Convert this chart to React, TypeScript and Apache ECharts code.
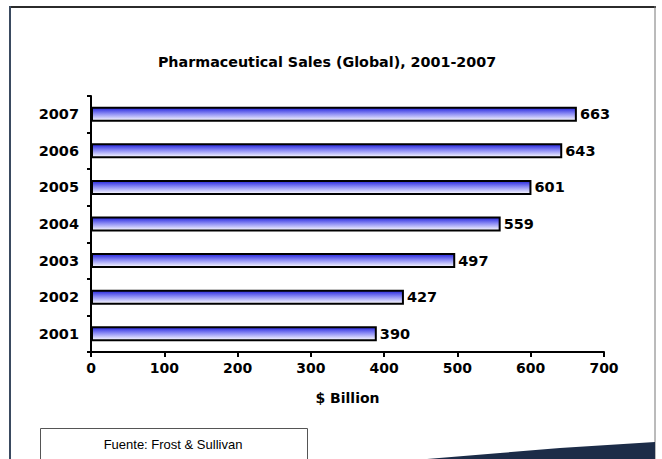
import React, { useEffect, useRef } from "react";
import * as echarts from "echarts";

const years = ["2001", "2002", "2003", "2004", "2005", "2006", "2007"];
const sales = [390, 427, 497, 559, 601, 643, 663];
const xTicks = [0, 100, 200, 300, 400, 500, 600, 700];
const titleText = "Pharmaceutical Sales (Global), 2001-2007";
const axisTitle = "$ Billion";
const sourceText = "Fuente: Frost & Sullivan";

const FONT = "DejaVu Sans";

export default function App() {
  const ref = useRef<HTMLDivElement>(null);
  useEffect(() => {
    const chart = echarts.init(ref.current!, null, { renderer: "svg" });
    chart.setOption({
      animation: false,
      backgroundColor: "#ffffff",
      title: {
        text: titleText,
        left: 322,
        textAlign: "center",
        top: 50,
        textStyle: { fontFamily: FONT, fontWeight: "bold", fontSize: 14.3, color: "#000" },
      },
      grid: { left: 91, right: 58, top: 96, bottom: 107, containLabel: false },
      xAxis: {
        type: "value",
        min: xTicks[0],
        max: xTicks[xTicks.length - 1],
        interval: 100,
        name: axisTitle,
        nameLocation: "middle",
        nameGap: 39,
        nameTextStyle: { fontFamily: FONT, fontWeight: "bold", fontSize: 14, color: "#000" },
        axisLine: { show: true, lineStyle: { color: "#000", width: 2 } },
        axisTick: { show: true, length: 5, lineStyle: { color: "#000", width: 2 } },
        axisLabel: { fontFamily: FONT, fontWeight: "bold", fontSize: 14, color: "#000", margin: 9 },
        splitLine: { show: false },
      },
      yAxis: {
        type: "category",
        data: years,
        axisLine: { show: true, lineStyle: { color: "#000", width: 2 } },
        axisTick: { show: true, length: 4, lineStyle: { color: "#000", width: 2 } },
        axisLabel: { fontFamily: FONT, fontWeight: "bold", fontSize: 14.5, color: "#000", margin: 12 },
      },
      series: [
        {
          type: "bar",
          data: sales,
          barWidth: 15,
          itemStyle: {
            color: new echarts.graphic.LinearGradient(0, 0, 0, 1, [
              { offset: 0, color: "#2424dc" },
              { offset: 0.45, color: "#8a8af4" },
              { offset: 1, color: "#ffffff" },
            ]),
            borderColor: "#000",
            borderWidth: 2,
          },
          label: {
            show: true,
            position: "right",
            distance: 3,
            fontFamily: FONT,
            fontWeight: "bold",
            fontSize: 14.5,
            color: "#000",
          },
        },
      ],
      graphic: [
        { type: "line", shape: { x1: 10, y1: 7, x2: 656, y2: 7 }, style: { stroke: "#2b2b2b", lineWidth: 2 } },
        { type: "line", shape: { x1: 10, y1: 6, x2: 10, y2: 459 }, style: { stroke: "#3a4a60", lineWidth: 2 } },
        { type: "line", shape: { x1: 655, y1: 6, x2: 655, y2: 459 }, style: { stroke: "#777", lineWidth: 1 } },
        {
          type: "polygon",
          shape: { points: [[427, 459], [500, 453], [560, 448], [655, 442], [655, 459]] },
          style: { fill: "#1c2c48" },
        },
        {
          type: "rect",
          shape: { x: 40.5, y: 428.5, width: 267, height: 40 },
          style: { fill: "#fff", stroke: "#555", lineWidth: 1 },
        },
        {
          type: "text",
          x: 173,
          y: 444,
          style: {
            text: sourceText,
            fontFamily: "Liberation Sans",
            fontSize: 13,
            fill: "#000",
            align: "center",
            verticalAlign: "middle",
          },
        },
      ],
    });
    return () => chart.dispose();
  }, []);
  return (
    <div
      ref={ref}
      style={{ position: "fixed", left: 0, top: 0, width: 662, height: 459 }}
    />
  );
}
